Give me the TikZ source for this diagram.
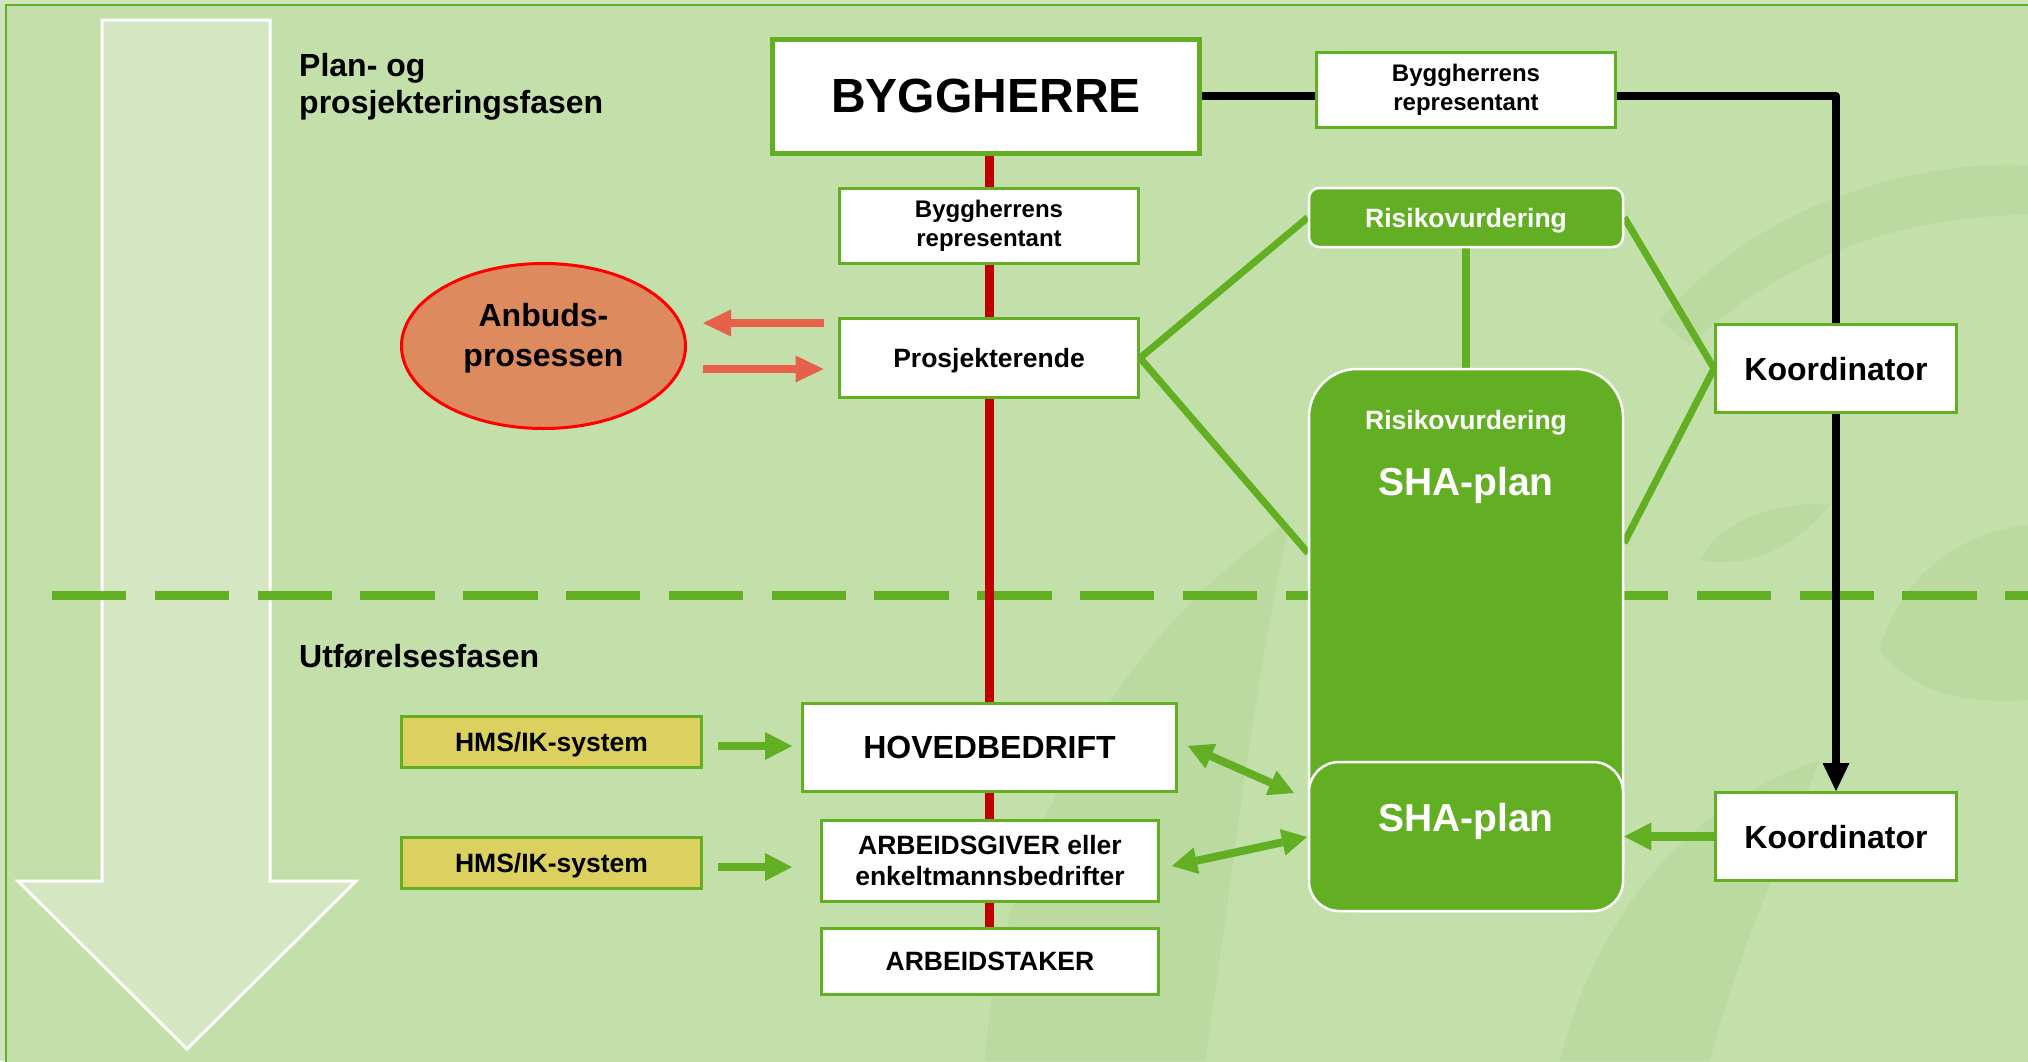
\documentclass[tikz,border=0pt]{standalone}
\usepackage{fontspec}
\setmainfont{Liberation Sans}
\usetikzlibrary{arrows.meta,calc,shapes.geometric}
\definecolor{bgc}{HTML}{C3E0AA}
\definecolor{outc}{HTML}{CFE6BD}
\definecolor{gline}{HTML}{63AF23}
\definecolor{arrowc}{HTML}{D4E7C2}
\definecolor{redl}{HTML}{C00000}
\definecolor{orangec}{HTML}{DC8A5E}
\definecolor{redarc}{HTML}{E6604A}
\definecolor{yellowc}{HTML}{DCD05E}
\definecolor{wm}{HTML}{BBDA9F}
\newcommand\fz[2]{\fontsize{#1}{#2}\selectfont\bfseries}
\pgfdeclarelayer{back}
\pgfsetlayers{back,main}
\begin{document}
\begin{tikzpicture}[x=1pt,y=-1pt,
  wbox/.style={draw=gline, line width=3pt, fill=white, text=black, inner sep=0pt, align=center},
  gbox/.style={draw=white, line width=2.5pt, fill=gline, text=white, inner sep=0pt, align=center},
  ybox/.style={draw=gline, line width=3pt, fill=yellowc, text=black, inner sep=0pt, align=center},
  sl/.style={text depth=0pt},
  wtext/.style={text=white, inner sep=0pt},
  btext/.style={text=black, inner sep=0pt},
  gconn/.style={draw=gline, line width=7pt},
  blk/.style={draw=black, line width=8pt, line join=round},
  redarr/.style={draw=redarc, line width=8.5pt, -{Triangle[length=28pt,width=27pt,line width=0pt]}},
  garr/.style={draw=gline, line width=8.5pt, -{Triangle[length=27pt,width=28pt,line width=0pt]}},
  darr/.style={draw=gline, line width=8pt, {Triangle[length=25pt,width=27pt,line width=0pt]}-{Triangle[length=25pt,width=27pt,line width=0pt]}}
]
\useasboundingbox (0,0) rectangle (2028,1061);

% ---------- nodes ----------
\node[wbox, sl, line width=5pt, minimum width=427pt, minimum height=114pt, font=\fz{48}{56}] (bh) at (986,96) {BYGGHERRE};
\node[wbox, minimum width=299pt, minimum height=75pt, font=\fz{24}{29}] (rep1) at (1466,90) {Byggherrens\\representant};
\node[wbox, minimum width=299pt, minimum height=75pt, font=\fz{24}{29}] (rep2) at (989,226) {Byggherrens\\representant};
\node[wbox, sl, minimum width=299pt, minimum height=79pt, font=\fz{26.5}{31}] (prosj) at (989,358) {Prosjekterende};
\node[wbox, sl, minimum width=241pt, minimum height=88pt, font=\fz{32}{37}] (koord1) at (1836,368.5) {Koordinator};
\node[wbox, sl, minimum width=241pt, minimum height=88pt, font=\fz{32}{37}] (koord2) at (1836,836.5) {Koordinator};

\node[gbox, sl, rounded corners=10pt, minimum width=314pt, minimum height=59pt, font=\fz{26.5}{31}] (risk) at (1466,217.5) {Risikovurdering};
\node[gbox, rounded corners=48pt, minimum width=314pt, minimum height=542pt] (shabig) at (1466,640) {};
\node[wtext, anchor=base, font=\fz{26.5}{31}] (bigrisk) at (1466,429) {Risikovurdering};
\node[wtext, anchor=base, font=\fz{39}{44}] (bigsha) at (1466,495) {SHA-plan};
\node[gbox, rounded corners=30pt, minimum width=314pt, minimum height=149pt] (shasmall) at (1466,836.5) {};
\node[wtext, anchor=base, font=\fz{39}{44}] (smallsha) at (1466,831) {SHA-plan};

\node[ellipse, draw=red, line width=3pt, fill=orangec, minimum width=284pt, minimum height=165pt, inner sep=0pt] (anbud) at (543.5,346) {};
\node[btext, align=center, font=\fz{32}{40}] (anbudtxt) at (543.5,338) {Anbuds-\\prosessen};

\node[ybox, sl, minimum width=300pt, minimum height=51pt, font=\fz{26.5}{31}] (hms1) at (551.5,742) {HMS/IK-system};
\node[ybox, sl, minimum width=300pt, minimum height=51pt, font=\fz{26.5}{31}] (hms2) at (551.5,862.5) {HMS/IK-system};
\node[wbox, sl, minimum width=374pt, minimum height=88pt, font=\fz{32}{37}] (hoved) at (989.5,747.5) {HOVEDBEDRIFT};
\node[wbox, minimum width=337pt, minimum height=81pt, font=\fz{26.5}{31}] (arbg) at (990,861) {ARBEIDSGIVER eller\\enkeltmannsbedrifter};
\node[wbox, sl, minimum width=337pt, minimum height=66pt, font=\fz{26.5}{31}] (arbt) at (990,961.5) {ARBEIDSTAKER};

\node[btext, anchor=base west, font=\fz{32}{37}] (ph1a) at (299,76) {Plan- og};
\node[btext, anchor=base west, font=\fz{32}{37}] (ph1b) at (299,113) {prosjekteringsfasen};
\node[btext, anchor=base west, font=\fz{32}{37}] (ph2) at (299,667) {Utførelsesfasen};

% ---------- coordinates ----------
\coordinate (sbl) at (1308,553);
\coordinate (sbr) at (1624,543);
\coordinate (corner) at (koord1.north |- bh.east);
\coordinate (ra1) at (823.5,323);
\coordinate (ra2) at (703,323);
\coordinate (rb1) at (703,369);
\coordinate (rb2) at (823.5,369);
\coordinate (ga1) at (718,746);
\coordinate (ga2) at (792,746);
\coordinate (gb1) at (718,867);
\coordinate (gb2) at (792,867);
\coordinate (da1) at (1188,746);
\coordinate (da2) at (1294,793);
\coordinate (db1) at (1172,866);
\coordinate (db2) at (1307,837);

% ---------- background layer ----------
\begin{pgfonlayer}{back}
\fill[outc] (0,0) rectangle (2028,1061);
\draw[fill=bgc, draw=gline, line width=2.5pt] (6,5) rectangle (2040,1075);
\begin{scope}
\clip (8,7) rectangle (2028,1061);
\fill[wm] (985,1061) .. controls (1000,820) and (1140,620) .. (1290,520) .. controls (1250,700) and (1230,900) .. (1205,1061) -- cycle;
\fill[wm] (1560,1061) .. controls (1600,900) and (1700,800) .. (1820,760) .. controls (1770,880) and (1730,980) .. (1710,1061) -- cycle;
\fill[wm] (1660,320) .. controls (1760,200) and (1920,160) .. (2028,165) -- (2028,215) .. controls (1900,215) and (1780,260) .. (1690,345) -- cycle;
\fill[wm] (1880,650) .. controls (1900,570) and (1970,530) .. (2028,525) -- (2028,700) .. controls (1960,705) and (1910,690) .. (1880,650) -- cycle;
\fill[wm] (1700,560) .. controls (1720,520) and (1780,500) .. (1830,505) .. controls (1800,540) and (1760,570) .. (1700,560) -- cycle;
\end{scope}
\draw[fill=arrowc, draw=white, line width=3pt] (102,20) -- (270,20) -- (270,881) -- (356,881) -- (187,1049) -- (18,881) -- (102,881) -- cycle;
\draw[gline, line width=9pt, dash pattern=on 74.4pt off 28.4pt] (52,595) -- (2040,595);
\draw[redl, line width=9pt] (rep2.center |- bh.south) -- (rep2.center |- arbt.north);
\draw[gconn] (prosj.east) -- (risk.west);
\draw[gconn] (prosj.east) -- (sbl);
\draw[gconn] (risk.east) -- (koord1.west);
\draw[gconn] (koord1.west) -- (sbr);
\draw[gconn, line width=8pt] (risk.south) -- (shabig.north);
\draw[blk] (bh.east) -- (bh.east -| rep1.west);
\draw[blk] (rep1.east |- bh.east) -- (corner) -- (koord1.north);
\end{pgfonlayer}

% ---------- arrows ----------
\draw[blk, -{Triangle[length=28pt,width=27pt,line width=0pt]}] (koord1.south) -- (koord2.north);
\draw[redarr] (ra1) -- (ra2);
\draw[redarr] (rb1) -- (rb2);
\draw[garr] (ga1) -- (ga2);
\draw[garr] (gb1) -- (gb2);
\draw[darr] (da1) -- (da2);
\draw[darr] (db1) -- (db2);
\draw[garr] (koord2.west) -- (shasmall.east);
\end{tikzpicture}
\end{document}
